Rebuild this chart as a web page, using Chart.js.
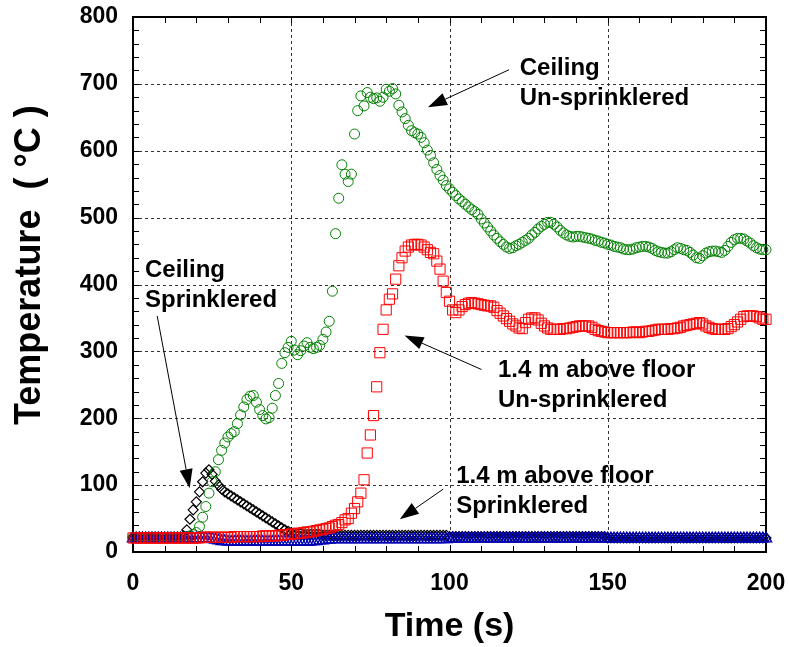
<!DOCTYPE html>
<html>
<head>
<meta charset="utf-8">
<title>Temperature vs time</title>
<script src="https://cdn.jsdelivr.net/npm/chart.js@4/dist/chart.umd.min.js"></script>
<style>
  html, body { margin: 0; padding: 0; background: #fff; }
  #wrap { width: 789px; height: 647px; }
</style>
</head>
<body>
<div id="wrap"><canvas id="myChart" width="789" height="647"></canvas></div>
<script>
'use strict';

// one reading per second, 0 - 200 s
let seconds = [];
for (let i = 0; i <= 200; i++) {
  seconds.push(i);
}

// Ceiling, un-sprinklered (deg C)
let ceilingUnspr = [
  22, 22, 22, 22, 22, 22, 22, 22, 22, 22,
  22, 22, 22, 22, 22, 22, 22, 23, 24, 26,
  29, 38, 52, 68, 88, 105, 120, 138, 152, 163,
  172, 177, 180, 192, 205, 217, 228, 233, 234, 224,
  213, 204, 199, 201, 215, 234, 252, 282, 298, 306,
  315, 302, 295, 301, 308, 313, 306, 304, 306, 309,
  318, 329, 345, 390, 476, 529, 579, 565, 554, 565,
  625, 660, 682, 667, 687, 680, 678, 679, 674, 680,
  692, 689, 693, 685, 668, 658, 648, 638, 630, 627,
  625, 620, 612, 601, 593, 582, 572, 563, 556, 548,
  543, 538, 533, 528, 524, 520, 516, 512, 509, 505,
  498, 492, 486, 480, 474, 469, 464, 460, 456, 454,
  455, 458, 460, 463, 466, 469, 474, 478, 483, 487,
  490, 493, 493, 490, 486, 481, 477, 474, 472, 471,
  472, 472, 471, 470, 469, 468, 466, 465, 463, 462,
  460, 459, 457, 456, 455, 453, 452, 452, 453, 455,
  456, 457, 457, 456, 454, 451, 449, 448, 447, 447,
  449, 452, 455, 454, 452, 451, 448, 444, 440, 439,
  443, 447, 449, 450, 450, 449, 448, 451, 457, 463,
  467, 469, 469, 468, 465, 462, 458, 455, 453, 452,
  452
];

// 1.4 m above floor, un-sprinklered
let floorUnspr = [
  21, 21, 21, 21, 21, 21, 21, 21, 21, 21,
  21, 21, 21, 21, 21, 21, 21, 21, 21, 21,
  21, 21, 22, 22, 22, 22, 22, 22, 22, 22,
  22, 22, 23, 23, 23, 23, 23, 23, 23, 23,
  23, 24, 24, 24, 24, 24, 25, 25, 26, 26,
  27, 27, 28, 28, 29, 30, 30, 31, 32, 33,
  34, 35, 36, 38, 40, 41, 44, 48, 50, 58,
  65, 75, 88, 108, 148, 175, 204, 247, 298, 333,
  362, 378, 386, 408, 428, 440, 450, 456, 459, 460,
  460, 459, 456, 452, 448, 446, 435, 423, 405, 388,
  375, 362, 358, 362, 367, 370, 372, 373, 372, 371,
  370, 369, 368, 368, 366, 361, 357, 353, 349, 345,
  341, 338, 335, 334, 343, 348, 350, 350, 347, 342,
  338, 335, 333, 333, 333, 333, 334, 334, 335, 336,
  337, 338, 338, 338, 338, 336, 333, 331, 330, 329,
  328, 328, 328, 328, 328, 328, 328, 328, 329, 329,
  328, 329, 330, 330, 331, 332, 333, 333, 333, 333,
  334, 334, 335, 336, 338, 339, 340, 341, 342, 343,
  341, 338, 336, 334, 333, 333, 333, 333, 334, 337,
  340, 344, 348, 352, 353, 353, 353, 352, 350, 348,
  348
];

// Ceiling, sprinklered
let ceilingSpr = [
  22, 22, 22, 22, 22, 22, 22, 22, 22, 22,
  22, 22, 22, 22, 22, 22, 24, 33, 49, 63,
  75, 90, 105, 118, 123, 116, 106, 100, 94, 90,
  87, 84, 81, 78, 75, 72, 69, 66, 63, 60,
  57, 54, 51, 48, 45, 42, 39, 36, 33, 31,
  29, 28, 27, 27, 26, 26, 26, 26, 26, 26,
  25, 25, 25, 25, 25, 25, 25, 25, 25, 25,
  25, 25, 25, 25, 25, 25, 25, 25, 25, 25,
  25, 25, 25, 25, 25, 25, 25, 25, 25, 25,
  25, 25, 25, 25, 25, 25, 25, 25, 25, 25,
  23, 23, 23, 23, 23, 23, 23, 23, 23, 23,
  23, 23, 23, 23, 23, 23, 23, 23, 23, 23,
  23, 23, 23, 23, 23, 23, 23, 23, 23, 23,
  23, 23, 23, 23, 23, 23, 23, 23, 23, 23,
  23, 23, 23, 23, 23, 23, 23, 23, 23, 23,
  21, 21, 21, 21, 21, 21, 21, 21, 21, 21,
  21, 21, 21, 21, 21, 21, 21, 21, 21, 21,
  21, 21, 21, 21, 21, 21, 21, 21, 21, 21,
  21, 21, 21, 21, 21, 21, 21, 21, 21, 21,
  21, 21, 21, 21, 21, 21, 21, 21, 21, 21,
  21
];

// 1.4 m above floor, sprinklered
let floorSpr = [
  20, 20, 20, 20, 20, 20, 20, 20, 20, 20,
  20, 20, 20, 20, 20, 20, 20, 20, 20, 20,
  20, 20, 20, 20, 20, 19, 18, 17, 16, 16,
  15, 15, 15, 15, 15, 15, 15, 15, 15, 15,
  15, 15, 15, 15, 15, 15, 15, 15, 15, 15,
  15, 15, 15, 15, 15, 15, 15, 16, 16, 17,
  17, 18, 18, 19, 19, 19, 19, 19, 19, 19,
  19, 19, 19, 19, 19, 19, 19, 19, 19, 19,
  19, 19, 19, 19, 19, 19, 19, 19, 19, 19,
  19, 19, 19, 19, 19, 19, 19, 19, 19, 19,
  20, 20, 20, 20, 20, 20, 20, 20, 20, 20,
  20, 20, 20, 20, 20, 20, 20, 20, 20, 20,
  20, 20, 20, 20, 20, 20, 20, 20, 20, 20,
  20, 20, 20, 20, 20, 20, 20, 20, 20, 20,
  20, 20, 20, 20, 20, 20, 20, 20, 20, 20,
  20, 20, 20, 20, 20, 20, 20, 20, 20, 20,
  20, 20, 20, 20, 20, 20, 20, 20, 20, 20,
  20, 20, 20, 20, 20, 20, 20, 20, 20, 20,
  20, 20, 20, 20, 20, 20, 20, 20, 20, 20,
  20, 20, 20, 20, 20, 20, 20, 20, 20, 20,
  20
];

let xTicks = [0, 50, 100, 150, 200];
let yTicks = [0, 100, 200, 300, 400, 500, 600, 700, 800];

// callouts: text anchor and arrow ends, all in data units (s, deg C)
let notes = [
  { lines: ['Ceiling', 'Un-sprinklered'], at: [122.2, 713.6], from: [118.8, 721.1], to: [93.2, 665.2] },
  { lines: ['Ceiling', 'Sprinklered'], at: [3.8, 410.8], from: [7.65, 352.8], to: [17.9, 95.5] },
  { lines: ['1.4 m above floor', 'Un-sprinklered'], at: [115.3, 262], from: [110.1, 272.9], to: [85.8, 323.8] },
  { lines: ['1.4 m above floor', 'Sprinklered'], at: [102.1, 103.9], from: [98.0, 94.0], to: [84.3, 49.0] }
];

const FONT = "'Liberation Sans', Arial, Helvetica, sans-serif";

function toPoints(values) {
  let pts = [];
  for (let i = 0; i < values.length; i++) {
    pts.push({ x: seconds[i], y: values[i] });
  }
  return pts;
}

// box, dashed grid and small inward ticks
const framePlugin = {
  id: 'frame',
  beforeDatasetsDraw(chart) {
    const ctx = chart.ctx;
    const a = chart.chartArea;
    const x = chart.scales.x;
    const y = chart.scales.y;

    ctx.save();
    ctx.strokeStyle = '#333';
    ctx.lineWidth = 1;
    ctx.setLineDash([3, 3]);
    ctx.beginPath();
    for (let i = 1; i < xTicks.length - 1; i++) {
      const px = Math.round(x.getPixelForValue(xTicks[i])) + 0.5;
      ctx.moveTo(px, a.top);
      ctx.lineTo(px, a.bottom);
    }
    for (let i = 1; i < yTicks.length - 1; i++) {
      const py = Math.round(y.getPixelForValue(yTicks[i])) + 0.5;
      ctx.moveTo(a.left, py);
      ctx.lineTo(a.right, py);
    }
    ctx.stroke();
    ctx.setLineDash([]);

    ctx.strokeStyle = '#000';
    ctx.beginPath();
    for (let v = 0; v <= 200; v += 10) {
      const px = Math.round(x.getPixelForValue(v)) + 0.5;
      ctx.moveTo(px, a.top);
      ctx.lineTo(px, a.top + 6);
      ctx.moveTo(px, a.bottom);
      ctx.lineTo(px, a.bottom - 6);
    }
    for (let v = 0; v <= 800; v += 20) {
      const py = Math.round(y.getPixelForValue(v)) + 0.5;
      ctx.moveTo(a.left, py);
      ctx.lineTo(a.left + 6, py);
      ctx.moveTo(a.right, py);
      ctx.lineTo(a.right - 6, py);
    }
    ctx.stroke();

    ctx.lineWidth = 2;
    ctx.strokeRect(a.left, a.top, a.right - a.left, a.bottom - a.top);

    // y axis title, set a little above the axis middle
    ctx.fillStyle = '#000';
    ctx.font = 'bold 36px ' + FONT;
    ctx.textAlign = 'left';
    ctx.textBaseline = 'alphabetic';
    ctx.translate(40, 425);
    ctx.rotate(-Math.PI / 2);
    ctx.fillText('Temperature  ( °C )', 0, 0);
    ctx.restore();
  }
};

// text labels with arrows
const notesPlugin = {
  id: 'notes',
  afterDatasetsDraw(chart) {
    const ctx = chart.ctx;
    const x = chart.scales.x;
    const y = chart.scales.y;

    ctx.save();
    ctx.fillStyle = '#000';
    ctx.strokeStyle = '#000';
    ctx.font = 'bold 24px ' + FONT;
    ctx.textAlign = 'left';
    ctx.textBaseline = 'alphabetic';

    notes.forEach(function (n) {
      const tx = x.getPixelForValue(n.at[0]);
      const ty = y.getPixelForValue(n.at[1]);
      n.lines.forEach(function (line, i) {
        ctx.fillText(line, tx, ty + i * 30);
      });

      const x1 = x.getPixelForValue(n.from[0]);
      const y1 = y.getPixelForValue(n.from[1]);
      const x2 = x.getPixelForValue(n.to[0]);
      const y2 = y.getPixelForValue(n.to[1]);
      const ang = Math.atan2(y2 - y1, x2 - x1);
      const headLen = 19;
      const headHalf = 6.5;
      const bx = x2 - headLen * Math.cos(ang);
      const by = y2 - headLen * Math.sin(ang);

      ctx.lineWidth = 1;
      ctx.beginPath();
      ctx.moveTo(x1, y1);
      ctx.lineTo(bx, by);
      ctx.stroke();

      ctx.beginPath();
      ctx.moveTo(x2, y2);
      ctx.lineTo(bx + headHalf * Math.sin(ang), by - headHalf * Math.cos(ang));
      ctx.lineTo(bx - headHalf * Math.sin(ang), by + headHalf * Math.cos(ang));
      ctx.closePath();
      ctx.fill();
    });
    ctx.restore();
  }
};

// first dataset is painted last, so red sits on top
const data = {
  datasets: [
    {
      label: '1.4 m above floor Un-sprinklered',
      data: toPoints(floorUnspr),
      pointStyle: 'rect',
      pointRadius: 7.2,
      pointBorderColor: '#ff0000',
      pointBackgroundColor: 'rgba(0,0,0,0)',
      pointBorderWidth: 1
    },
    {
      label: '1.4 m above floor Sprinklered',
      data: toPoints(floorSpr),
      pointStyle: 'triangle',
      pointRadius: 6.5,
      pointBorderColor: '#0000b4',
      pointBackgroundColor: 'rgba(0,0,0,0)',
      pointBorderWidth: 1.3
    },
    {
      label: 'Ceiling Un-sprinklered',
      data: toPoints(ceilingUnspr),
      pointStyle: 'circle',
      pointRadius: 5,
      pointBorderColor: '#008000',
      pointBackgroundColor: 'rgba(0,0,0,0)',
      pointBorderWidth: 1
    },
    {
      label: 'Ceiling Sprinklered',
      data: toPoints(ceilingSpr),
      pointStyle: 'rectRot',
      pointRadius: 5,
      pointBorderColor: '#000000',
      pointBackgroundColor: 'rgba(0,0,0,0)',
      pointBorderWidth: 1.2
    }
  ]
};

data.datasets.forEach(function (ds) {
  ds.showLine = false;
  ds.clip = false;
  ds.pointHoverRadius = ds.pointRadius;
});

// keep the plot box where the layout padding puts it
function noSidePadding(axis) {
  axis.paddingLeft = 0;
  axis.paddingRight = 0;
  axis.paddingTop = 0;
  axis.paddingBottom = 0;
}

const ctx = document.getElementById('myChart');
const myChart = new Chart(ctx, {
  type: 'scatter',
  data: data,
  plugins: [framePlugin, notesPlugin],
  options: {
    responsive: false,
    animation: false,
    devicePixelRatio: 1,
    layout: { padding: { top: 17, right: 23, left: 0, bottom: 0 } },
    plugins: {
      legend: { display: false },
      tooltip: { enabled: false }
    },
    scales: {
      x: {
        type: 'linear',
        min: 0,
        max: 200,
        afterBuildTicks: function (axis) {
          axis.ticks = xTicks.map(function (v) { return { value: v }; });
        },
        afterFit: function (axis) {
          axis.height = 95;
          noSidePadding(axis);
        },
        grid: { display: false, drawTicks: false },
        border: { display: false },
        ticks: {
          autoSkip: false,
          maxRotation: 0,
          padding: 18,
          color: '#000',
          font: { family: FONT, size: 23, weight: 'bold' }
        },
        title: {
          display: true,
          text: 'Time (s)',
          color: '#000',
          font: { family: FONT, size: 34, weight: 'bold' },
          padding: { top: 0, bottom: 0 }
        }
      },
      y: {
        type: 'linear',
        min: 0,
        max: 800,
        afterBuildTicks: function (axis) {
          axis.ticks = yTicks.map(function (v) { return { value: v }; });
        },
        afterFit: function (axis) {
          axis.width = 133;
          noSidePadding(axis);
        },
        grid: { display: false, drawTicks: false },
        border: { display: false },
        ticks: {
          autoSkip: false,
          padding: 15,
          color: '#000',
          font: { family: FONT, size: 23, weight: 'bold' }
        }
      }
    }
  }
});
</script>
</body>
</html>
